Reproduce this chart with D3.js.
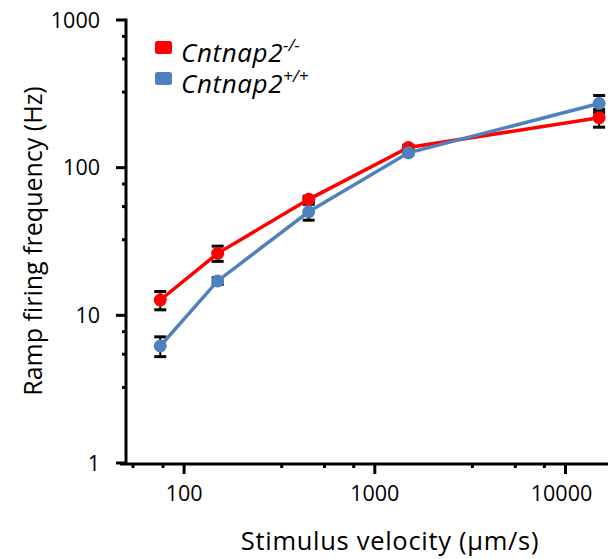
<!DOCTYPE html>
<html>
<head>
<meta charset="utf-8">
<script src="https://cdn.jsdelivr.net/npm/d3@7"></script>
<style>
  body { margin: 0; background: #fff; }
  svg { display: block; font-family: "Open Sans", sans-serif; }
</style>
</head>
<body>
<svg id="chart" width="608" height="559"></svg>
<script>
// --- data ---
const velocities = [75, 150, 450, 1500, 15000];          // µm/s
const knockoutMean = [12.7, 26.3, 61, 137, 218];          // Cntnap2 -/-
const knockoutSem = [1.8, 3.1, 3, 5, 30];
const wildtypeMean = [6.2, 17.1, 50.3, 126, 272];         // Cntnap2 +/+
const wildtypeSem = [0.95, 0.9, 6.2, 4, 36];

const xMajorTicks = [100, 1000, 10000];
const xMinorTicks = [54, 77.5, 325, 545, 775, 3250, 5450, 7750];
const yMajorTicks = [1, 10, 100, 1000];
const yMinorTicks = [3.25, 5.45, 7.75, 32.5, 54.5, 77.5, 325, 545, 775];

const series = [
  { name: 'Cntnap2', sup: '-/-', color: '#ff0000', mean: knockoutMean, sem: knockoutSem },
  { name: 'Cntnap2', sup: '+/+', color: '#4f81bd', mean: wildtypeMean, sem: wildtypeSem },
];

const svg = d3.select('#chart');

const x = d3.scaleLog().domain([49, 16700]).range([125, 608]);
const y = d3.scaleLog().domain([1, 1000]).range([463, 20]);

const AXIS_W = 3;

// --- axes ---
const yAxis = svg.append('g').attr('transform', 'translate(126,0)');
yAxis.append('line')
  .attr('y1', y(1000) - 1.5).attr('y2', y(1) + 1.5)
  .attr('stroke', '#000').attr('stroke-width', AXIS_W);
yAxis.selectAll('.ymaj').data(yMajorTicks).join('line')
  .attr('x1', -10).attr('x2', 0)
  .attr('y1', d => y(d)).attr('y2', d => y(d))
  .attr('stroke', '#000').attr('stroke-width', AXIS_W);
yAxis.selectAll('.ymin').data(yMinorTicks).join('line')
  .attr('x1', -4).attr('x2', 0)
  .attr('y1', d => y(d)).attr('y2', d => y(d))
  .attr('stroke', '#000').attr('stroke-width', AXIS_W);
yAxis.selectAll('.ylab').data(yMajorTicks).join('text')
  .attr('x', -26).attr('y', d => y(d))
  .attr('dy', '0.36em')
  .attr('text-anchor', 'end')
  .attr('font-size', 21.5)
  .text(d => d);

const xAxis = svg.append('g').attr('transform', 'translate(0,464)');
xAxis.append('line')
  .attr('x1', 120).attr('x2', 608)
  .attr('stroke', '#000').attr('stroke-width', AXIS_W);
xAxis.selectAll('.xmaj').data(xMajorTicks).join('line')
  .attr('x1', d => x(d)).attr('x2', d => x(d))
  .attr('y1', 0).attr('y2', 10)
  .attr('stroke', '#000').attr('stroke-width', AXIS_W);
xAxis.selectAll('.xmin').data(xMinorTicks).join('line')
  .attr('x1', d => x(d)).attr('x2', d => x(d))
  .attr('y1', 0).attr('y2', 4)
  .attr('stroke', '#000').attr('stroke-width', AXIS_W);
xAxis.selectAll('.xlab').data(xMajorTicks).join('text')
  .attr('x', d => x(d) - (d === 10000 ? 4 : 0)).attr('y', 37)
  .attr('text-anchor', 'middle')
  .attr('font-size', 21.5)
  .text(d => d);

// axis titles
svg.append('text')
  .attr('x', 390).attr('y', 550)
  .attr('text-anchor', 'middle')
  .attr('font-size', 25.5)
  .attr('letter-spacing', 0.7)
  .text('Stimulus velocity (μm/s)');

svg.append('text')
  .attr('transform', 'translate(42,241) rotate(-90)')
  .attr('text-anchor', 'middle')
  .attr('font-size', 25)
  .text('Ramp firing frequency (Hz)');

// --- error bars ---
const errG = svg.append('g');
series.forEach(s => {
  const pts = velocities.map((v, i) => ({ v, lo: s.mean[i] - s.sem[i], hi: s.mean[i] + s.sem[i] }));
  errG.selectAll(null).data(pts).join('line')
    .attr('x1', d => x(d.v)).attr('x2', d => x(d.v))
    .attr('y1', d => y(d.lo)).attr('y2', d => y(d.hi))
    .attr('stroke', '#000').attr('stroke-width', 2);
  ['lo', 'hi'].forEach(k => {
    errG.selectAll(null).data(pts).join('line')
      .attr('x1', d => x(d.v) - 6).attr('x2', d => x(d.v) + 6)
      .attr('y1', d => y(d[k])).attr('y2', d => y(d[k]))
      .attr('stroke', '#000').attr('stroke-width', 3);
  });
});

// --- lines and markers ---
const line = d3.line()
  .x((d, i) => x(velocities[i]))
  .y(d => y(d));

series.forEach(s => {
  const g = svg.append('g');
  g.append('path')
    .attr('d', line(s.mean))
    .attr('fill', 'none')
    .attr('stroke', s.color)
    .attr('stroke-width', 3.5);
  g.selectAll('circle').data(s.mean).join('circle')
    .attr('cx', (d, i) => x(velocities[i]))
    .attr('cy', d => y(d))
    .attr('r', 6.5)
    .attr('fill', s.color);
});

// --- legend ---
const legend = svg.append('g').attr('transform', 'translate(155,41)');
const entries = legend.selectAll('g').data(series).join('g')
  .attr('transform', (d, i) => `translate(0,${i * 31})`);
entries.append('rect')
  .attr('width', 17).attr('height', 13)
  .attr('rx', 2.5)
  .attr('fill', d => d.color);
const lt = entries.append('text')
  .attr('x', 26).attr('y', 20.5)
  .attr('font-size', 26)
  .attr('letter-spacing', 0.6)
  .attr('font-style', 'italic');
lt.append('tspan').text(d => d.name);
lt.append('tspan')
  .attr('dy', -11)
  .attr('font-size', 17)
  .attr('letter-spacing', 0)
  .text(d => d.sup);
</script>
</body>
</html>
